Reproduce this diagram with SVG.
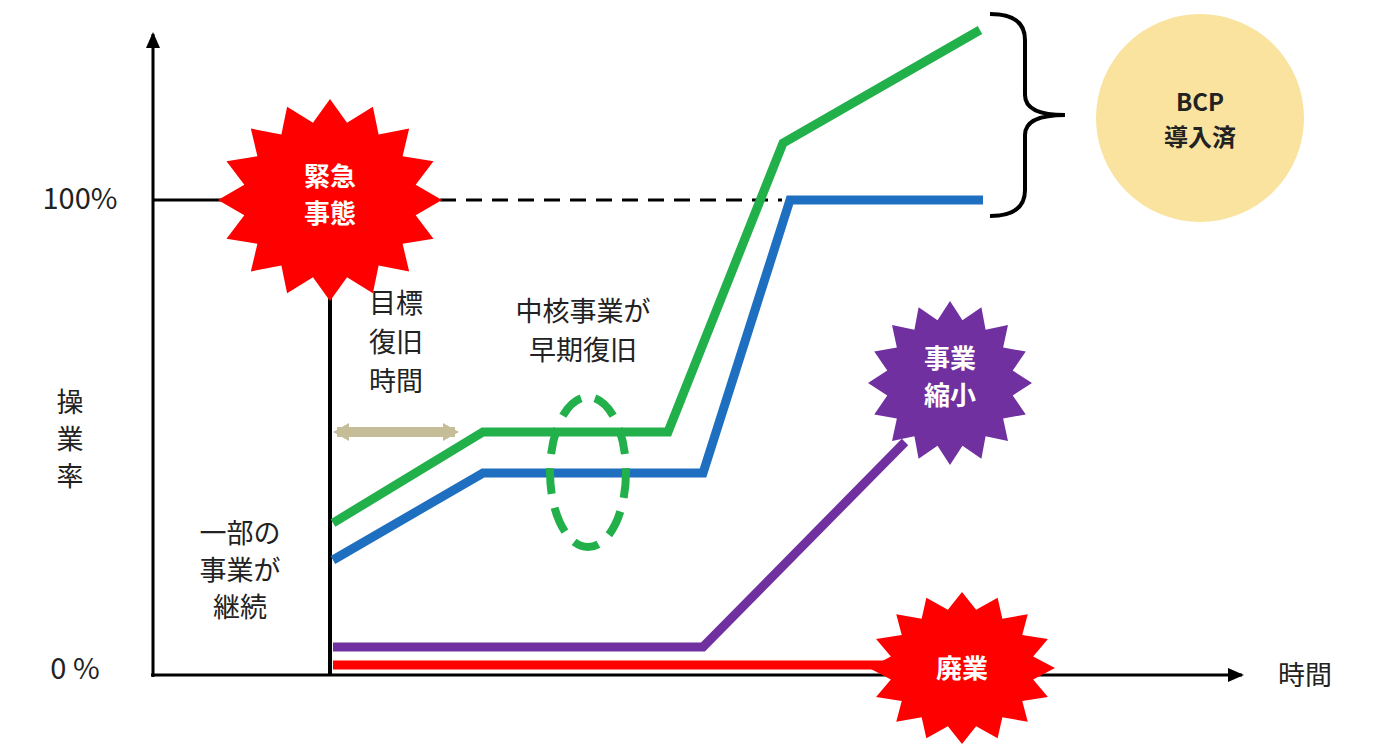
<svg xmlns="http://www.w3.org/2000/svg" width="1375" height="747" viewBox="0 0 1375 747">
<style>
.t{font-family:"Noto Sans CJK JP","Liberation Sans",sans-serif;font-size:27px;fill:#222;text-anchor:middle}
.w{font-family:"Noto Sans CJK JP","Liberation Sans",sans-serif;font-size:26px;font-weight:bold;fill:#fff;text-anchor:middle}
.ln{fill:none;stroke-width:9;stroke-linejoin:miter}
</style>
<defs>
<polygon id="star" points="100,0 76.5,15.2 92.4,38.3 64.8,43.4 70.7,70.7 43.4,64.8 38.3,92.4 15.2,76.5 0,100 -15.2,76.5 -38.3,92.4 -43.4,64.8 -70.7,70.7 -64.8,43.4 -92.4,38.3 -76.5,15.2 -100,0 -76.5,-15.2 -92.4,-38.3 -64.8,-43.4 -70.7,-70.7 -43.4,-64.8 -38.3,-92.4 -15.2,-76.5 0,-100 15.2,-76.5 38.3,-92.4 43.4,-64.8 70.7,-70.7 64.8,-43.4 92.4,-38.3 76.5,-15.2"/>
<marker id="ah" markerWidth="16" markerHeight="14" refX="14" refY="7" orient="auto" markerUnits="userSpaceOnUse"><path d="M0,0 L16,7 L0,14 Z" fill="#000"/></marker>
<marker id="tan" markerWidth="16" markerHeight="18" refX="12" refY="9" orient="auto-start-reverse" markerUnits="userSpaceOnUse"><path d="M0,0 L16,9 L0,18 Z" fill="#c4bd97"/></marker>
</defs>
<g id="connectors">
<line x1="153" y1="677" x2="153" y2="34" stroke="#000" stroke-width="3" marker-end="url(#ah)"/>
<line x1="151" y1="675" x2="1242" y2="675" stroke="#000" stroke-width="3" marker-end="url(#ah)"/>
<line x1="153" y1="200" x2="240" y2="200" stroke="#000" stroke-width="3"/>
<line x1="440" y1="200" x2="782" y2="200" stroke="#000" stroke-width="3" stroke-dasharray="16,10"/>
<line x1="330" y1="280" x2="330" y2="676" stroke="#000" stroke-width="4"/>
<line x1="337" y1="432" x2="455" y2="432" stroke="#c4bd97" stroke-width="10" marker-start="url(#tan)" marker-end="url(#tan)"/>
<polyline class="ln" stroke="#ff0000" points="333,665 900,665"/>
<polyline class="ln" stroke="#7030a0" points="333,647 703,647 905,442"/>
<polyline class="ln" stroke="#1f6fc1" points="333,560 483,473 703,473 790,200 983,200"/>
<polyline class="ln" stroke="#22b04b" points="333,523 483,432 668,432 783,143 980,30"/>
<ellipse cx="588" cy="472" rx="38" ry="75" fill="none" stroke="#22b04b" stroke-width="8" stroke-dasharray="26,14"/>
<path d="M990,14 Q1025,14 1025,40 L1025,95 Q1025,115 1065,115 Q1025,115 1025,135 L1025,190 Q1025,216 990,216" fill="none" stroke="#000" stroke-width="4"/>
</g>
<g id="emergency"><use href="#star" fill="#ff0000" transform="translate(330,200) scale(1.12,1.01)"/><text class="w" x="330" y="186">緊急</text><text class="w" x="330" y="223">事態</text></g>
<g id="shrink"><use href="#star" fill="#7030a0" transform="translate(950,383) scale(0.82)"/><text class="w" x="950" y="368">事業</text><text class="w" x="950" y="405">縮小</text></g>
<g id="closure"><use href="#star" fill="#ff0000" transform="translate(962,668) scale(0.93,0.76)"/><text class="w" x="962" y="678">廃業</text></g>
<g id="bcp"><circle cx="1200" cy="118" r="104" fill="#fae39e"/><text class="t" x="1200" y="111" style="font-weight:bold;font-size:24px">BCP</text><text class="t" x="1200" y="146" style="font-weight:bold;font-size:24px">導入済</text></g>
<g id="labels">
<text class="t" x="80" y="209" style="font-size:29px">100%</text>
<text class="t" x="75" y="679" style="font-size:29px">0 %</text>
<text class="t" x="70" y="412">操</text><text class="t" x="70" y="449">業</text><text class="t" x="70" y="486">率</text>
<text class="t" x="1305" y="685">時間</text>
<text class="t" x="240" y="543">一部の</text><text class="t" x="240" y="580">事業が</text><text class="t" x="240" y="617">継続</text>
<text class="t" x="396" y="313">目標</text><text class="t" x="396" y="352">復旧</text><text class="t" x="396" y="391">時間</text>
<text class="t" x="583" y="321">中核事業が</text><text class="t" x="583" y="360">早期復旧</text>
</g>
</svg>
